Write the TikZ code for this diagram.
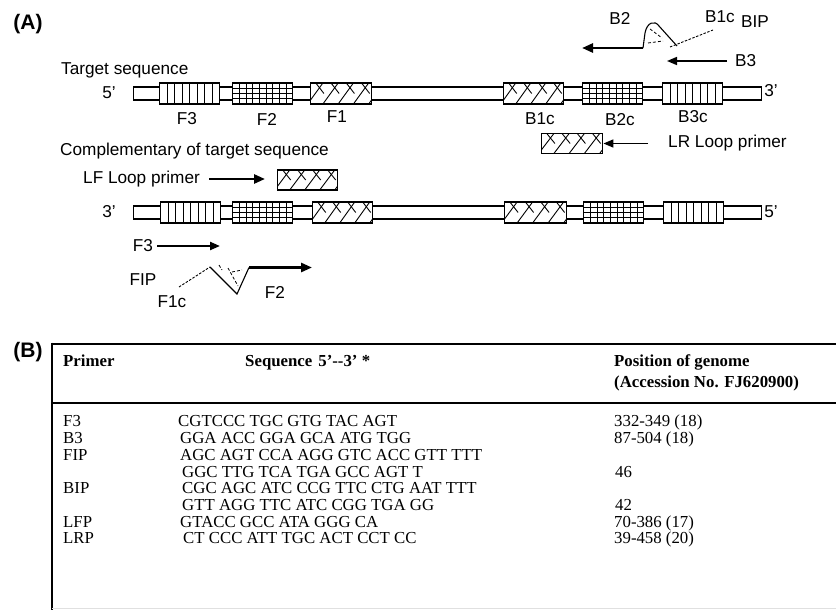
\documentclass[tikz,border=0pt]{standalone}
\usepackage{fontspec}
\setmainfont{Liberation Serif}
\setsansfont{Liberation Sans}
\usetikzlibrary{arrows.meta,calc}
\begin{document}
\begin{tikzpicture}[x=1pt,y=-1pt,
  lbl/.style={font=\sffamily\fontsize{17.2}{19}\selectfont, inner sep=0pt},
  lblw/.style={lbl, anchor=base west},
  panel/.style={font=\sffamily\bfseries\fontsize{21}{24}\selectfont, inner sep=0pt},
  tbl/.style={font=\rmfamily\fontsize{16.8}{18}\selectfont, inner sep=0pt, anchor=base west},
  tblh/.style={font=\rmfamily\bfseries\fontsize{16.8}{18}\selectfont, inner sep=0pt, anchor=base west},
  tube/.style={draw, line width=1.4pt, fill=white, minimum height=13pt, inner sep=0pt, anchor=west},
  seg/.style={draw, line width=1.4pt, fill=white, minimum height=21pt, minimum width=60pt, inner sep=0pt, anchor=west},
  vpat/.style={seg, path picture={\foreach \i in {1,...,7}{\draw[line width=1pt] ($(path picture bounding box.north west)!\i/8!(path picture bounding box.north east)$) -- ($(path picture bounding box.south west)!\i/8!(path picture bounding box.south east)$);}}},
  gpat/.style={seg, path picture={\foreach \i in {1,...,8}{\draw[line width=0.9pt] ($(path picture bounding box.north west)!\i/9!(path picture bounding box.north east)$) -- ($(path picture bounding box.south west)!\i/9!(path picture bounding box.south east)$);}
     \foreach \j in {1,2,3}{\draw[line width=0.9pt] ($(path picture bounding box.north west)!\j/4!(path picture bounding box.south west)$) -- ($(path picture bounding box.north east)!\j/4!(path picture bounding box.south east)$);}}},
  hpat/.style={seg, path picture={\foreach \k in {0,...,4}{
     \pgfmathsetmacro\hpa{(\k*15-3)/60}\pgfmathsetmacro\hpb{(\k*15+12)/60}%
     \pgfmathsetmacro\hpc{(\k*15+5)/60}\pgfmathsetmacro\hpd{(\k*15+13)/60}%
     \draw[line width=0.9pt] ($(path picture bounding box.south west)!\hpa!(path picture bounding box.south east)$) -- ($(path picture bounding box.north west)!\hpb!(path picture bounding box.north east)$);
     \draw[line width=0.9pt] ($(path picture bounding box.north west)!\hpc!(path picture bounding box.north east)$) -- ($(path picture bounding box.west)!\hpd!(path picture bounding box.east)$);}}},
  thickarr/.style={line width=2.6pt, -{Triangle[length=11pt,width=9pt]}},
  thinarr/.style={line width=1.5pt, -{Triangle[length=10pt,width=8pt]}},
  pair/.style={line width=0.8pt, dash pattern=on 3pt off 2pt},
]
\useasboundingbox (0,0) rectangle (836,610);
\fill[white] (0,0) rectangle (836,610);

% ---------- panel A ----------
\node[panel] (pA) at (28,24) {(A)};
\node[lblw] (tgt) at (61,75) {Target sequence};
\node[lbl] (t5) at (109,93) {5'};
\node[lbl] (t3) at (771,91) {3'};

\node[tube, minimum width=628pt] (topstrand) at (133,93.5) {};
\node[vpat] (tF3) at (159,93.5) {};
\node[gpat] (tF2) at (232,93.5) {};
\node[hpat, minimum width=61pt] (tF1) at (310,93.5) {};
\node[hpat] (tB1c) at (503,93.5) {};
\node[gpat] (tB2c) at (582,93.5) {};
\node[vpat] (tB3c) at (662,93.5) {};

\node[lbl] (lF3) at (187,119) {F3};
\node[lbl] (lF2) at (267,119) {F2};
\node[lbl] (lF1) at (337,117) {F1};
\node[lbl] (lB1c) at (540,119) {B1c};
\node[lbl] (lB2c) at (620,120) {B2c};
\node[lbl] (lB3c) at (693,117) {B3c};

% BIP
\node[lbl] (lB2) at (620,18) {B2};
\node[lbl] (lB1cp) at (720,17) {B1c};
\node[lbl] (lBIP) at (755,22) {BIP};
\coordinate (b2s) at (643,48);
\coordinate (b2e) at (582,48);
\draw[thickarr] (b2s) -- (b2e);
\draw[line width=1.1pt] (b2s) -- (645,33) .. controls (647,22) and (655,20) .. (659,26) -- (677,46);
\draw[line width=0.9pt, dash pattern=on 2.5pt off 1.5pt] (670,47) -- (713,30);
\draw[pair] (650,29) -- (662,38);
\draw[pair] (648,43) -- (663,41);

% B3
\node[lbl, anchor=west] (lB3) at (735,61) {B3};
\coordinate (b3e) at (667,61);
\draw[thinarr] ([xshift=-8pt]lB3.west) -- (b3e);

% LR loop primer
\node[hpat, minimum height=20pt, minimum width=61pt] (lrbox) at (541,143.5) {};
\node[lblw] (lLR) at (668,147) {LR Loop primer};
\coordinate (lrs) at (648,143.5);
\draw[thinarr] (lrs) -- (lrbox.east);

% complementary strand
\node[lblw] (comp) at (60,155) {Complementary of target sequence};
\node[lblw] (lLF) at (83,183) {LF Loop primer};
\node[hpat, minimum height=20pt] (lfbox) at (277,180) {};
\coordinate (lfs) at (209,179);
\coordinate (lfe) at (265,179);
\draw[thickarr] (lfs) -- (lfe);

\node[lbl] (b3p) at (109,212) {3'};
\node[lbl] (b5p) at (771,212) {5'};
\node[tube, minimum width=628pt] (botstrand) at (133,212.5) {};
\node[vpat] (bF3) at (160,212.5) {};
\node[gpat] (bF2) at (232,212.5) {};
\node[hpat] (bF1) at (312,212.5) {};
\node[hpat, minimum width=62pt] (bB1c) at (504,212.5) {};
\node[gpat] (bB2c) at (583,212.5) {};
\node[vpat] (bB3c) at (663,212.5) {};

% F3
\node[lbl] (lF3b) at (143,246) {F3};
\coordinate (f3e) at (220,246);
\draw[line width=2.2pt, -{Triangle[length=10pt,width=8pt]}] ([xshift=4pt]lF3b.east) -- (f3e);

% FIP
\node[lbl] (lFIP) at (143,280) {FIP};
\node[lbl] (lF1c) at (172,302) {F1c};
\node[lbl] (lF2b) at (275,292) {F2};
\coordinate (f2s) at (249,267.5);
\coordinate (f2e) at (312,267.5);
\draw[thickarr] (f2s) -- (f2e);
\draw[line width=1.1pt] (210,267) -- (237,294) -- (f2s);
\draw[line width=0.9pt, dash pattern=on 2.5pt off 1.5pt] (179,287) -- (210,267);
\draw[pair] (219,265) -- (222,270);
\draw[pair] (228,268) -- (238,286);
\draw[pair] (232,272) -- (242,270);

% ---------- panel B ----------
\node[panel] (pB) at (28,352) {(B)};
\draw[line width=2pt] (52,343.5) -- (836,343.5);
\draw[line width=2pt] (52,403) -- (836,403);
\draw[line width=2pt] (52,342.5) -- (52,610);
\draw[line width=1pt, black!12] (52,608) -- (836,608);

\node[tblh] (hPrimer) at (63,366.5) {Primer};
\node[tblh] (hSeq) at (245,366.5) {Sequence\hspace{6pt}5'-{}-3' *};
\node[tblh] (hPos1) at (614,366.5) {Position of genome};
\node[tblh] (hPos2) at (614,387.5) {(Accession No. FJ620900)};

\node[tbl] (r1a) at (63,426.5) {F3};
\node[tbl] (r1b) at (178,426.5) {CGTCCC TGC GTG TAC AGT};
\node[tbl] (r1c) at (614,426.5) {332-349 (18)};
\node[tbl] (r2a) at (63,443.5) {B3};
\node[tbl] (r2b) at (180,443.5) {GGA ACC GGA GCA ATG TGG};
\node[tbl] (r2c) at (614,443.5) {87-504 (18)};
\node[tbl] (r3a) at (63,460.5) {FIP};
\node[tbl] (r3b) at (180,460.5) {AGC AGT CCA AGG GTC ACC GTT TTT};
\node[tbl] (r4b) at (182,477.5) {GGC TTG TCA TGA GCC AGT T};
\node[tbl] (r4c) at (615,477.5) {46};
\node[tbl] (r5a) at (63,493.5) {BIP};
\node[tbl] (r5b) at (182,493.5) {CGC AGC ATC CCG TTC CTG AAT TTT};
\node[tbl] (r6b) at (182,510.5) {GTT AGG TTC ATC CGG TGA GG};
\node[tbl] (r6c) at (615,510.5) {42};
\node[tbl] (r7a) at (63,527.5) {LFP};
\node[tbl] (r7b) at (180,527.5) {GTACC GCC ATA GGG CA};
\node[tbl] (r7c) at (614,527.5) {70-386 (17)};
\node[tbl] (r8a) at (63,543.5) {LRP};
\node[tbl] (r8b) at (183,543.5) {CT CCC ATT TGC ACT CCT CC};
\node[tbl] (r8c) at (614,543.5) {39-458 (20)};
\end{tikzpicture}
\end{document}
